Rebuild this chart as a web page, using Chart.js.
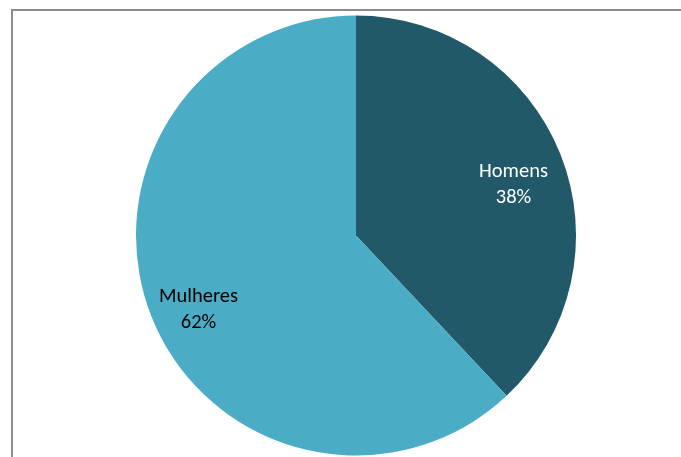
<!DOCTYPE html>
<html>
<head>
    <script src="https://cdn.jsdelivr.net/npm/chart.js"></script>
    <style>
        body {
            margin: 0;
            background-color: white;
        }
        .wrap {
            position: relative;
            width: 681px;
            height: 457px;
        }
        /* frame of the chart, only left and top edges show */
        .frame {
            position: absolute;
            left: 11px;
            top: 9px;
            right: 0;
            bottom: -10px;
            border-left: 2px solid #8c8c8c;
            border-top: 2px solid #8c8c8c;
        }
        #myChart {
            position: absolute;
            left: 0;
            top: 0;
        }
    </style>
</head>
<body>
    <div class="wrap">
        <div class="frame"></div>
        <canvas id="myChart" width="681" height="457"></canvas>
    </div>

    <script>
        const categories = ['Homens', 'Mulheres'];
        const shares = [38, 62];
        const sliceColors = ['#215968', '#4BACC6'];
        const labelColors = ['#ffffff', '#000000'];

        // draws "Name / NN%" inside each slice
        const sliceLabels = {
            id: 'sliceLabels',
            afterDatasetsDraw(chart) {
                const ctx = chart.ctx;
                const meta = chart.getDatasetMeta(0);
                ctx.save();
                ctx.font = '20.5px Carlito, Lato, sans-serif';
                ctx.textAlign = 'center';
                ctx.textBaseline = 'middle';
                meta.data.forEach((arc, i) => {
                    const mid = (arc.startAngle + arc.endAngle) / 2;
                    const r = arc.outerRadius * 0.77;
                    const x = arc.x + Math.cos(mid) * r;
                    const y = arc.y + Math.sin(mid) * r + 12;
                    ctx.fillStyle = labelColors[i];
                    ctx.fillText(categories[i], x, y - 13);
                    ctx.fillText(shares[i] + '%', x, y + 13);
                });
                ctx.restore();
            }
        };

        const chart = new Chart('myChart', {
            type: 'pie',
            data: {
                labels: categories,
                datasets: [{
                    data: shares,
                    backgroundColor: sliceColors,
                    borderWidth: 0
                }]
            },
            options: {
                responsive: false,
                animation: false,
                layout: {
                    padding: { left: 136, right: 105, top: 15.5, bottom: 1.5 }
                },
                plugins: {
                    legend: { display: false },
                    tooltip: { enabled: false }
                }
            },
            plugins: [sliceLabels]
        });
    </script>
</body>
</html>
